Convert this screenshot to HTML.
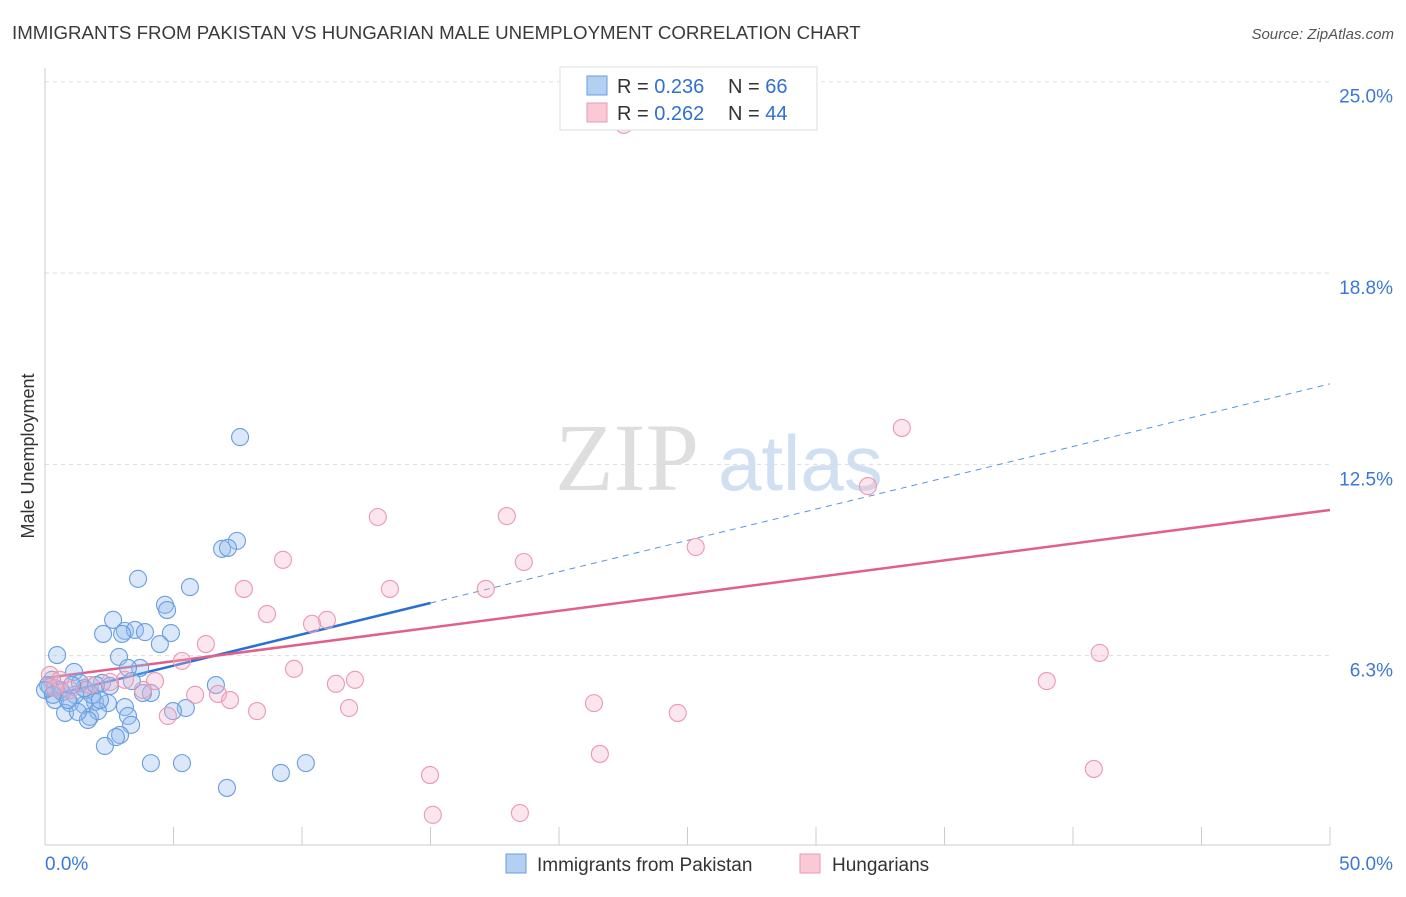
<!DOCTYPE html>
<html><head><meta charset="utf-8"><style>
body{margin:0;background:#fff;font-family:"Liberation Sans",sans-serif;}
</style></head><body>
<svg id="chart" width="1406" height="892" xmlns="http://www.w3.org/2000/svg" font-family="Liberation Sans, sans-serif">
<text x="12" y="39" font-size="18.7" fill="#3a3a3a">IMMIGRANTS FROM PAKISTAN VS HUNGARIAN MALE UNEMPLOYMENT CORRELATION CHART</text>
<text x="1394" y="39" font-size="15" fill="#555" font-style="italic" text-anchor="end">Source: ZipAtlas.com</text>
<g>
<text x="555" y="490" font-size="96" font-family="Liberation Serif, serif" fill="#dedede">ZIP</text>
<text x="718" y="490" font-size="78" fill="#d0dff2">atlas</text>
</g>
<g id="grid"></g>
<g id="axes"></g>
<g id="lines"></g>
<g id="pts"></g>
<text transform="translate(34,456) rotate(-90)" font-size="18" fill="#333" text-anchor="middle">Male Unemployment</text>
<g>
<rect x="560" y="67" width="257" height="63" fill="#fff" stroke="#ddd"/>
<rect x="587" y="76" width="20" height="19" fill="#b3cff2" stroke="#6a9de0"/>
<text x="617" y="93" font-size="20" fill="#333">R = <tspan fill="#3070d0">0.236</tspan></text>
<text x="728" y="93" font-size="20" fill="#333">N = <tspan fill="#3070d0">66</tspan></text>
<rect x="587" y="103" width="20" height="19" fill="#f9c9d6" stroke="#e99ab0"/>
<text x="617" y="120" font-size="20" fill="#333">R = <tspan fill="#3070d0">0.262</tspan></text>
<text x="728" y="120" font-size="20" fill="#333">N = <tspan fill="#3070d0">44</tspan></text>
</g>
<g>
<rect x="506" y="854" width="20" height="19" fill="#b3cff2" stroke="#6a9de0"/>
<text x="537" y="871" font-size="19" fill="#333">Immigrants from Pakistan</text>
<rect x="800" y="854" width="20" height="19" fill="#f9c9d6" stroke="#e99ab0"/>
<text x="832" y="871" font-size="19" fill="#333">Hungarians</text>
</g>
</svg>
<script>
const yTicks=[25,18.75,12.5,6.25];
const yTickLabels=["25.0%","18.8%","12.5%","6.3%"];
const xTickLabels=["0.0%","50.0%"];
const blueX=[7.59,7.47,6.89,7.12,3.62,5.64,4.67,4.75,2.65,3.11,2.26,3.50,3.89,4.90,3.00,4.47,0.47,2.88,3.70,3.23,1.13,2.22,0.27,0.19,0.58,1.36,1.59,2.53,3.38,6.65,4.12,3.81,1.95,0.39,0.97,1.52,2.45,3.11,5.48,4.98,0.78,1.75,2.06,3.23,3.35,1.67,2.92,2.76,2.33,4.12,5.33,9.18,10.15,7.08,0.12,0.66,1.17,1.83,2.14,1.28,0.00,0.89,0.31,1.52,1.05,1.98];
const blueY=[13.39,10.00,9.74,9.77,8.76,8.49,7.91,7.74,7.42,7.06,6.96,7.09,7.02,6.99,6.96,6.63,6.27,6.21,5.85,5.85,5.72,5.36,5.46,5.23,5.13,5.36,5.13,5.26,5.42,5.29,5.03,5.03,4.74,4.80,4.70,4.64,4.70,4.57,4.54,4.44,4.38,4.25,4.44,4.28,3.99,4.15,3.66,3.59,3.30,2.74,2.74,2.42,2.74,1.93,5.29,5.06,4.97,4.97,4.80,4.41,5.13,4.80,4.97,5.19,5.29,5.29];
const pinkX=[23.77,22.52,33.34,32.02,12.95,17.97,25.32,18.63,9.26,7.74,13.42,17.15,8.64,10.97,10.39,6.26,5.33,41.04,9.69,38.98,12.06,11.32,4.28,6.73,5.84,7.20,3.81,21.36,11.83,8.25,24.62,4.78,21.59,14.98,40.81,18.48,15.09,0.19,0.58,3.11,1.75,2.53,0.97,0.39];
const pinkY=[25.06,23.59,13.69,11.79,10.78,10.81,9.80,9.31,9.38,8.43,8.43,8.43,7.61,7.42,7.29,6.63,6.08,6.34,5.82,5.42,5.46,5.33,5.42,5.00,4.97,4.80,5.13,4.70,4.54,4.44,4.38,4.28,3.04,2.35,2.55,1.11,1.05,5.62,5.46,5.46,5.29,5.39,5.13,5.19];
const blueTrend=[4.90,7.97,15.13]; // at x=0, 15, 50
const pinkTrend=[5.52,11.01]; // at x=0, 50
const NS="http://www.w3.org/2000/svg";
const X=v=>45+v*(1285/50);
const Y=v=>847-v*(765.3/25);
function mk(tag,attrs,parent){const e=document.createElementNS(NS,tag);for(const k in attrs)e.setAttribute(k,attrs[k]);document.getElementById(parent).appendChild(e);return e;}
yTicks.forEach((t,i)=>{
 const l=mk('line',{x1:45,x2:1330,y1:Y(t),y2:Y(t),stroke:'#ddd','stroke-dasharray':'4,4'},'grid');
 
 
 const tx=mk('text',{x:1393,y:Y(t)+21,'font-size':19,fill:'#3b78d8','text-anchor':'end'},'grid');
 tx.textContent=yTickLabels[i];
 
 
});
const ax=mk('line',{x1:45,x2:45,y1:68,y2:845,stroke:'#ccc'},'axes');


const bx=mk('line',{x1:45,x2:1330,y1:845,y2:845,stroke:'#ccc'},'axes');


for(let i=0;i<=10;i++){
 const t=mk('line',{x1:X(i*5),x2:X(i*5),y1:827,y2:845,stroke:'#ccc'},'axes');
 
 
}
[[0,'start',45],[50,'end',1393]].forEach((d,i)=>{
 const t=mk('text',{x:d[2],y:870,'font-size':19,fill:'#3b78d8','text-anchor':d[1]},'axes');
 t.textContent=xTickLabels[i];
 
 
});
function dots(xs,ys,fill,stroke,name){
 xs.forEach((x,i)=>{
  const c=mk('circle',{cx:X(x),cy:Y(ys[i]),r:8.5,fill:fill,stroke:stroke,'stroke-width':1.1},'pts');
  
  
 });
}
dots(blueX,blueY,'rgba(150,190,238,0.35)','#6a9de0','point-pakistan');
dots(pinkX,pinkY,'rgba(246,178,198,0.32)','#eb98b0','point-hungarian');
let l1=mk('line',{x1:X(0),y1:Y(blueTrend[0]),x2:X(15),y2:Y(blueTrend[1]),stroke:'#2a6fd6','stroke-width':2.5},'lines');


let l2=mk('line',{x1:X(15),y1:Y(blueTrend[1]),x2:X(50),y2:Y(blueTrend[2]),stroke:'#5b95dd','stroke-width':1,'stroke-dasharray':'6,5'},'lines');


let l3=mk('line',{x1:X(0),y1:Y(pinkTrend[0]),x2:X(50),y2:Y(pinkTrend[1]),stroke:'#e0608a','stroke-width':2.5},'lines');


</script>
</body></html>
